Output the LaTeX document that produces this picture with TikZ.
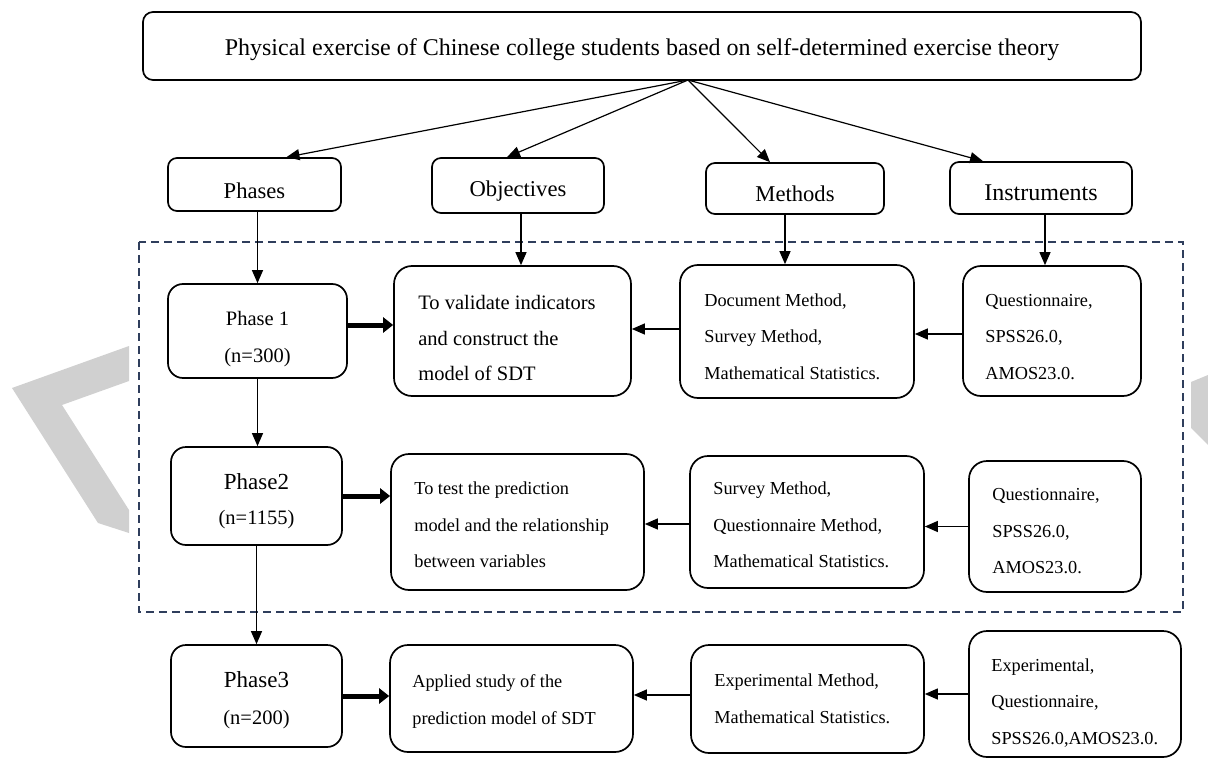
\documentclass[tikz,border=0pt]{standalone}
\usepackage{fontspec}
\setmainfont{Liberation Serif}
\usetikzlibrary{arrows.meta}
\definecolor{framecol}{RGB}{47,62,92}
\definecolor{markgray}{RGB}{208,208,208}
\begin{document}
\begin{tikzpicture}[x=1pt,y=-1pt,
  box/.style={draw, line width=1.7pt, rounded corners=9pt, fill=white, inner sep=0pt},
  phase/.style={box, rounded corners=15pt},
  card/.style={box, rounded corners=18pt},
  ctext/.style={inner sep=0pt, align=center},
  ltext/.style={inner sep=0pt, align=left, anchor=west, font=\fontsize{18.3}{36.5}\selectfont},
  headfont/.style={font=\fontsize{22.6}{27}\selectfont},
  arr/.style={line width=1.2pt, -{Triangle[length=13pt,width=11pt]}},
  bigarr/.style={line width=5pt, -{Triangle[length=10pt,width=15pt]}},
  frame/.style={draw=framecol, line width=1.8pt, dash pattern=on 8pt off 5pt},
]
\useasboundingbox (0,0) rectangle (1208,760);

% light grey marks in the margins
\begin{scope}
  \clip (0,0) rectangle (129,760);
  \fill[markgray] (12,388) -- (129,346) -- (129,381) -- (62,405) -- (129,510)
                  -- (129,533) -- (98,523) -- cycle;
\end{scope}
\fill[markgray] (1191,382) -- (1208,375) -- (1208,445) -- (1191,428) -- cycle;

% dashed frame around phases 1 and 2
\draw[frame] (139,242) rectangle (1183,612);

% title
\node[box, rounded corners=10pt, minimum width=998pt, minimum height=68pt] (title) at (642,46) {};
\node[ctext, font=\fontsize{24}{29}\selectfont] (titlet) at ([yshift=-4pt]title.center)
  {Physical exercise of Chinese college students based on self-determined exercise theory};

% column headers
\node[box, minimum width=173pt, minimum height=53pt] (ph) at (254.5,184.5) {};
\node[box, minimum width=172pt, minimum height=55pt] (ob) at (518,185.5) {};
\node[box, minimum width=178pt, minimum height=51pt] (me) at (795,188.5) {};
\node[box, minimum width=182pt, minimum height=52pt] (in) at (1041,188) {};
\node[ctext, headfont] (pht) at ([yshift=-6pt]ph.center) {Phases};
\node[ctext, headfont] (obt) at ([yshift=-6pt]ob.center) {Objectives};
\node[ctext, headfont] (met) at ([yshift=-5pt]me.center) {Methods};
\node[ctext, font=\fontsize{24}{28}\selectfont] (int) at ([yshift=-5pt]in.center) {Instruments};

% phases
\node[phase, minimum width=179pt, minimum height=94pt] (p1) at (257.5,331) {};
\node[phase, minimum width=171pt, minimum height=98pt] (p2) at (256.5,496) {};
\node[phase, minimum width=171pt, minimum height=102pt] (p3) at (256.5,696) {};
\node[ctext, font=\fontsize{20.5}{37}\selectfont] (p1t) at ([yshift=-8pt]p1.center)
  {Phase 1\\(n=300)};
\node[ctext, font=\fontsize{20.5}{35}\selectfont] (p2t) at ([yshift=-5pt]p2.center)
  {{\fontsize{23}{35}\selectfont Phase2}\\(n=1155)};
\node[ctext, font=\fontsize{20.5}{37}\selectfont] (p3t) at ([yshift=-4pt]p3.center)
  {{\fontsize{23}{37}\selectfont Phase3}\\(n=200)};

% objectives
\node[card, minimum width=237pt, minimum height=130pt] (o1) at (512.5,331) {};
\node[card, minimum width=253pt, minimum height=136pt] (o2) at (517.5,522) {};
\node[card, minimum width=243pt, minimum height=107pt] (o3) at (511.5,698.5) {};
\node[ltext, font=\fontsize{20.5}{35.5}\selectfont] (o1t) at ([xshift=25pt,yshift=-7pt]o1.west)
  {To validate indicators\\and construct the\\model of SDT};
\node[ltext] (o2t) at ([xshift=24pt,yshift=-3pt]o2.west)
  {To test the prediction\\model and the relationship\\between variables};
\node[ltext] (o3t) at ([xshift=23pt,yshift=-3pt]o3.west)
  {Applied study of the\\prediction model of SDT};

% methods
\node[card, minimum width=234pt, minimum height=133pt] (m1) at (797,331.5) {};
\node[card, minimum width=234pt, minimum height=132pt] (m2) at (807,522) {};
\node[card, minimum width=233pt, minimum height=108pt] (m3) at (807.5,699) {};
\node[ltext] (m1t) at ([xshift=25pt,yshift=-5pt]m1.west)
  {Document Method,\\Survey Method,\\Mathematical Statistics.};
\node[ltext] (m2t) at ([xshift=24pt,yshift=-3pt]m2.west)
  {Survey Method,\\Questionnaire Method,\\Mathematical Statistics.};
\node[ltext] (m3t) at ([xshift=24pt,yshift=0pt]m3.west)
  {Experimental Method,\\Mathematical Statistics.};

% instruments
\node[card, minimum width=178pt, minimum height=130pt] (i1) at (1052,331) {};
\node[card, minimum width=172pt, minimum height=131pt] (i2) at (1055,526.5) {};
\node[card, minimum width=212pt, minimum height=126pt] (i3) at (1075,694) {};
\node[ltext] (i1t) at ([xshift=23pt,yshift=-6pt]i1.west)
  {Questionnaire,\\SPSS26.0,\\AMOS23.0.};
\node[ltext] (i2t) at ([xshift=24pt,yshift=-5pt]i2.west)
  {Questionnaire,\\SPSS26.0,\\AMOS23.0.};
\node[ltext] (i3t) at ([xshift=23pt,yshift=-9pt]i3.west)
  {Experimental,\\Questionnaire,\\SPSS26.0,AMOS23.0.};

% fan from the title to the headers
\coordinate (fan) at (688,80);
\draw[arr] (fan) -- ([xshift=32pt]ph.north);
\draw[arr] (fan) -- ([xshift=-11pt]ob.north);
\draw[arr] (fan) -- ([xshift=-25pt]me.north);
\draw[arr] (fan) -- ([xshift=-58pt]in.north);

% headers down into the first row
\draw[arr] (ph.south -| p1.north) -- (p1.north);
\draw[arr] ([xshift=3pt]ob.south) -- ([xshift=3pt]ob.south |- o1.north);
\draw[arr] ([xshift=-10pt]me.south) -- ([xshift=-10pt]me.south |- m1.north);
\draw[arr] ([xshift=4pt]in.south) -- ([xshift=4pt]in.south |- i1.north);

% phase sequence
\draw[arr] (p1.south) -- (p1.south |- p2.north);
\draw[arr] (p2.south) -- (p2.south |- p3.north);

% phases to objectives
\draw[bigarr] ([yshift=6pt]p1.east) -- ([yshift=6pt]p1.east -| o1.west);
\draw[bigarr] (p2.east) -- (p2.east -| o2.west);
\draw[bigarr] (p3.east) -- (p3.east -| o3.west);

% instruments to methods to objectives
\draw[arr] ([yshift=2.5pt]m1.west) -- ([yshift=2.5pt]m1.west -| o1.east);
\draw[arr] ([yshift=-3pt]i1.west) -- ([yshift=-3pt]i1.west -| m1.east);
\draw[arr] ([yshift=-2pt]m2.west) -- ([yshift=-2pt]m2.west -| o2.east);
\draw[arr] (i2.west) -- (i2.west -| m2.east);
\draw[arr] ([yshift=4pt]m3.west) -- ([yshift=4pt]m3.west -| o3.east);
\draw[arr] (i3.west) -- (i3.west -| m3.east);
\end{tikzpicture}
\end{document}
